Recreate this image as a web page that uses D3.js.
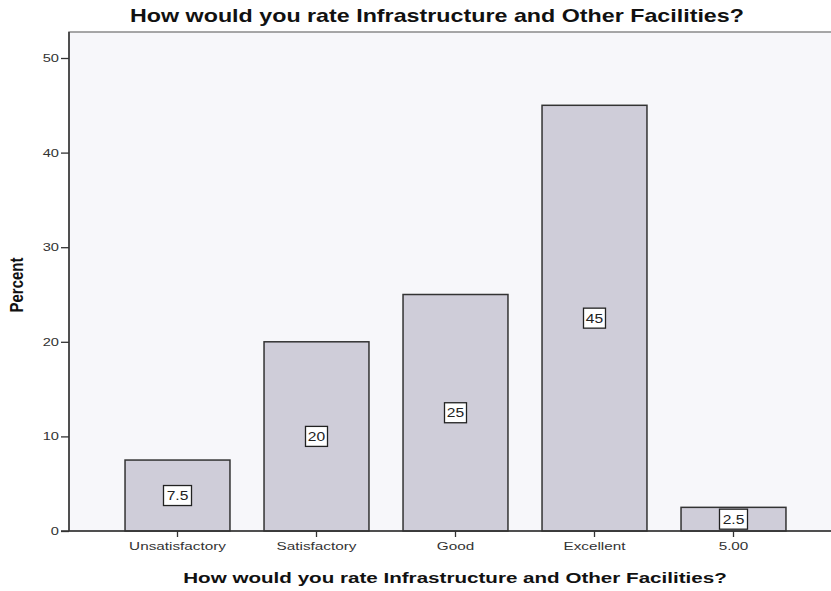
<!DOCTYPE html>
<html><head><meta charset="utf-8">
<script src="https://cdn.jsdelivr.net/npm/d3@7"></script>
<style>body{margin:0;background:#fff}svg{display:block}</style>
</head><body>
<svg id="c" width="831" height="591"></svg>
<script>
const categories = ["Unsatisfactory","Satisfactory","Good","Excellent","5.00"];
const percents = [7.5, 20, 25, 45, 2.5];
const valueLabels = ["7.5","20","25","45","2.5"];
const yTicks = [0,10,20,30,40,50];
const chartTitle = "How would you rate Infrastructure and Other Facilities?";
const xTitle = "How would you rate Infrastructure and Other Facilities?";
const yTitle = "Percent";

const svg = d3.select("#c");
const font = "Arial, 'Liberation Sans', sans-serif";
const SX = 1.33; // horizontal stretch of the original rendering
const plot = {left:69, top:32, right:833, bottom:531};

const y = d3.scaleLinear().domain([0,50]).range([531,58]);
const x = d3.scaleBand().domain(categories).range([108,803]).paddingInner(0.245).paddingOuter(0.1225);

// plot background
svg.append("rect").attr("x",plot.left).attr("y",plot.top).attr("width",plot.right-plot.left).attr("height",plot.bottom-plot.top)
  .attr("fill","#f7f7fa").attr("stroke","#8a8a8a").attr("stroke-width",1.5);

// bars
svg.selectAll("rect.bar").data(categories).enter().append("rect").attr("class","bar")
  .attr("x",d=>x(d)).attr("width",x.bandwidth())
  .attr("y",(d,i)=>y(percents[i])).attr("height",(d,i)=>y(0)-y(percents[i]))
  .attr("fill","#cfcdd9").attr("stroke","#333").attr("stroke-width",1.5);

// value labels
const lg = svg.selectAll("g.lab").data(categories).enter().append("g").attr("class","lab")
  .attr("transform",(d,i)=>`translate(${x(d)+x.bandwidth()/2},${y(percents[i]/2)})`);
lg.append("rect").attr("x",(d,i)=>valueLabels[i].length>2?-14:-11).attr("y",-10)
  .attr("width",(d,i)=>valueLabels[i].length>2?28:22).attr("height",20)
  .attr("fill","#fff").attr("stroke","#222").attr("stroke-width",1.3);
lg.append("text").attr("text-anchor","middle").attr("dy","0.36em")
  .attr("transform","scale(1.2,1)")
  .attr("font-family",font).attr("font-size",13).attr("fill","#222")
  .text((d,i)=>valueLabels[i]);

// y axis
const yAxis = svg.append("g").attr("transform",`translate(${plot.left},0)`)
  .call(d3.axisLeft(y).tickValues(yTicks).tickSize(8).tickPadding(2).tickSizeOuter(0));
yAxis.select(".domain").remove();
yAxis.append("line").attr("x1",0).attr("x2",0).attr("y1",plot.top).attr("y2",plot.bottom).attr("stroke","#333").attr("stroke-width",1.5);
yAxis.selectAll(".tick line").attr("stroke","#333").attr("stroke-width",1.3);
yAxis.selectAll("text").attr("font-family",font).attr("font-size",11).attr("fill","#333")
  .attr("x",-10/SX).attr("transform",`scale(${SX},1)`);

// x axis
const xAxis = svg.append("g").attr("transform",`translate(0,${plot.bottom})`)
  .call(d3.axisBottom(x).tickSize(6).tickPadding(5).tickSizeOuter(0));
xAxis.select(".domain").remove();
xAxis.append("line").attr("x1",plot.left-8).attr("x2",plot.right).attr("y1",0).attr("y2",0).attr("stroke","#333").attr("stroke-width",1.5);
xAxis.selectAll(".tick line").attr("stroke","#333").attr("stroke-width",1.3);
xAxis.selectAll("text").attr("font-family",font).attr("font-size",11.5).attr("fill","#333")
  .attr("transform",`scale(${SX},1)`);

// titles
svg.append("text").attr("transform",`translate(437,22) scale(${SX},1)`).attr("text-anchor","middle")
  .attr("font-family",font).attr("font-weight","bold").attr("font-size",17.5).attr("fill","#111").text(chartTitle);
svg.append("text").attr("transform",`translate(455,583) scale(${SX},1)`).attr("text-anchor","middle")
  .attr("font-family",font).attr("font-weight","bold").attr("font-size",15.5).attr("fill","#111").text(xTitle);
svg.append("text").attr("transform","translate(23,285) rotate(-90) scale(1,1.25)").attr("text-anchor","middle")
  .attr("font-family",font).attr("font-weight","bold").attr("font-size",15).attr("fill","#111").text(yTitle);
</script>
</body></html>
